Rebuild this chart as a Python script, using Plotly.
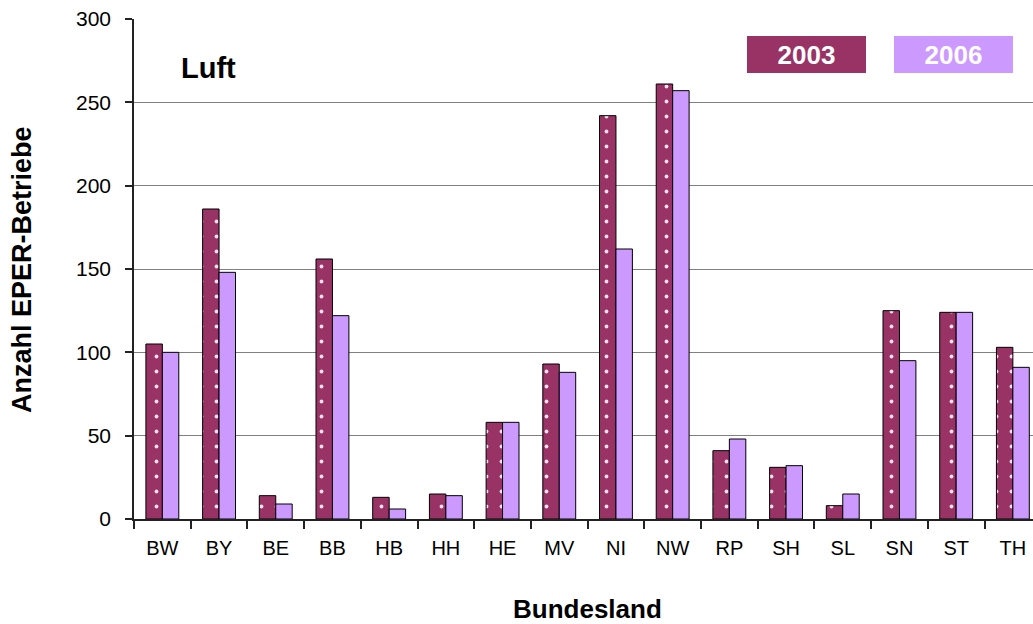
import plotly.graph_objects as go

categories = ["BW", "BY", "BE", "BB", "HB", "HH", "HE", "MV", "NI", "NW", "RP", "SH", "SL", "SN", "ST", "TH"]
values_2003 = [105, 186, 14, 156, 13, 15, 58, 93, 242, 261, 41, 31, 8, 125, 124, 103]
values_2006 = [100, 148, 9, 122, 6, 14, 58, 88, 162, 257, 48, 32, 15, 95, 124, 91]
y_ticks = [0, 50, 100, 150, 200, 250, 300]

FONT = "Liberation Sans, Arial, sans-serif"
C2003 = "#993366"
C2006 = "#CC99FF"

fig = go.Figure()
fig.add_trace(go.Bar(
    x=categories, y=values_2003, name="2003",
    marker=dict(color=C2003, line=dict(color="black", width=1),
                pattern=dict(shape=".", fgcolor="#f4e0ea", bgcolor=C2003,
                             size=15, solidity=0.05, fillmode="replace")),
))
fig.add_trace(go.Bar(
    x=categories, y=values_2006, name="2006",
    marker=dict(color=C2006, line=dict(color="black", width=1)),
))

fig.update_layout(
    width=1033, height=624,
    margin=dict(l=134, r=0, t=19, b=105),
    paper_bgcolor="white", plot_bgcolor="white",
    barmode="group", bargap=0.42, bargroupgap=0,
    showlegend=False,
    font=dict(family=FONT, size=20, color="black"),
)
fig.update_xaxes(
    type="category", range=[-0.5, 15.355],
    showline=True, linecolor="#222222", linewidth=1.5,
    ticks="outside", tickson="boundaries", ticklen=8, tickcolor="#222222", tickwidth=1.5,
    ticklabelstandoff=10, tickfont=dict(size=20, family=FONT),
    showgrid=False,
)
fig.update_yaxes(
    range=[0, 300], tickvals=y_ticks,
    showline=True, linecolor="#222222", linewidth=1.5,
    ticks="outside", ticklen=7, tickcolor="#222222", tickwidth=1.5,
    ticklabelstandoff=10, tickfont=dict(size=21, family=FONT),
    showgrid=True, gridcolor="#808080", gridwidth=1.2,
    zeroline=False,
)

annotations = [
    dict(text="<b>Luft</b>", xref="paper", yref="paper", x=(179 - 134) / 899, y=(519 - 68) / 500,
         xanchor="left", yanchor="middle", showarrow=False,
         font=dict(size=29, family=FONT, color="black")),
    dict(text="<b>2003</b>", xref="paper", yref="paper", x=(806.5 - 134) / 899, y=(519 - 54.5) / 500,
         xanchor="center", yanchor="middle", showarrow=False, bgcolor=C2003,
         width=119, height=37, borderpad=0, borderwidth=0,
         font=dict(size=26, family=FONT, color="white")),
    dict(text="<b>2006</b>", xref="paper", yref="paper", x=(953.5 - 134) / 899, y=(519 - 54.5) / 500,
         xanchor="center", yanchor="middle", showarrow=False, bgcolor=C2006,
         width=119, height=37, borderpad=0, borderwidth=0,
         font=dict(size=26, family=FONT, color="white")),
    dict(text="<b>Bundesland</b>", xref="paper", yref="paper", x=(587 - 134) / 899, y=(519 - 609) / 500,
         xanchor="center", yanchor="middle", showarrow=False,
         font=dict(size=26, family=FONT, color="black")),
    dict(text="<b>Anzahl EPER-Betriebe</b>", xref="paper", yref="paper", x=(22 - 134) / 899, y=(519 - 270) / 500,
         xanchor="center", yanchor="middle", showarrow=False, textangle=-90,
         font=dict(size=27, family=FONT, color="black")),
]
fig.update_layout(annotations=annotations)

fig.write_html("out.html", config={"displayModeBar": False},
               post_script="document.body.style.margin='0';document.body.style.overflow='hidden';")
